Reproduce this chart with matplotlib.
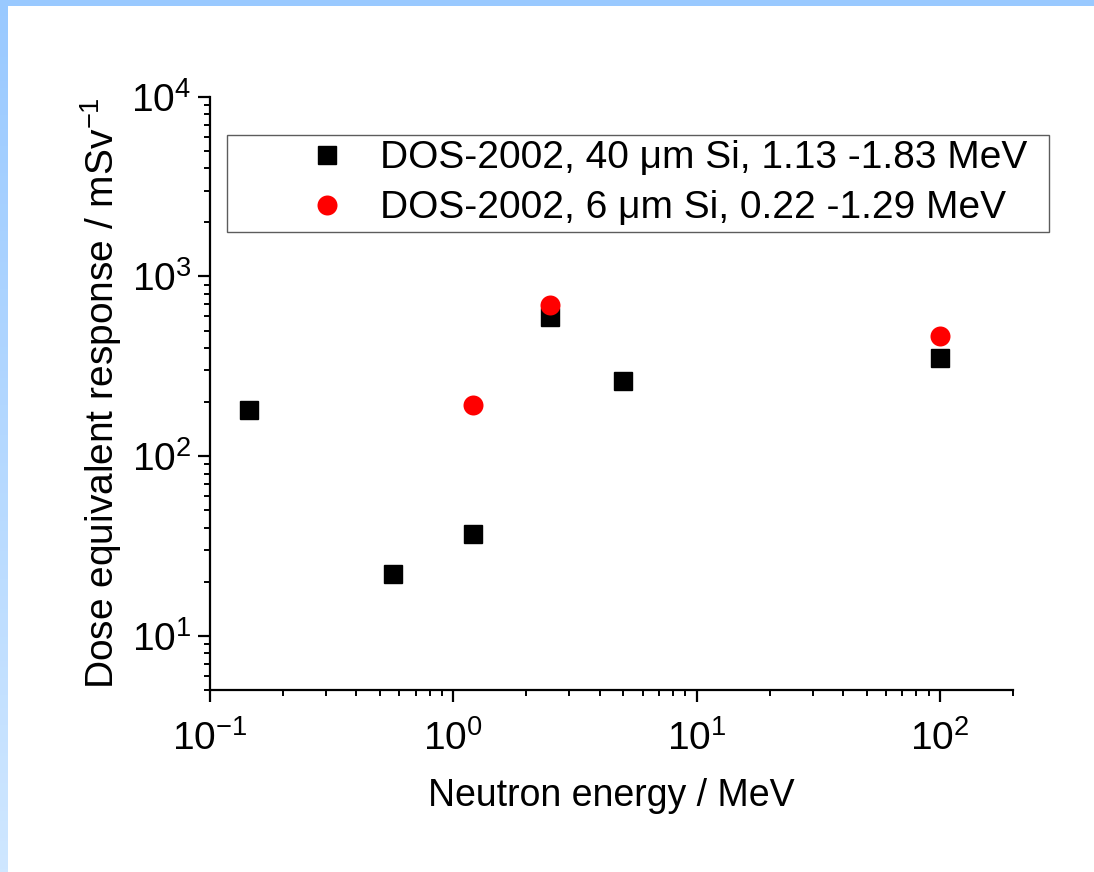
""" Dose equivalent response of the DOS-2002 dosimeter vs neutron energy """

import numpy as np
import matplotlib
matplotlib.use("Agg")
import matplotlib.pyplot as plt
from matplotlib.colors import LinearSegmentedColormap
from matplotlib.ticker import LogLocator, NullFormatter

# 40 um Si detector, 1.13 - 1.83 MeV window
energy_40um = [0.144, 0.565, 1.2, 2.5, 5.0, 100.0]
response_40um = [181, 22.1, 37.0, 598, 262, 352]

# 6 um Si detector, 0.22 - 1.29 MeV window
energy_6um = [1.2, 2.5, 100.0]
response_6um = [193, 694, 467]

labels = ["DOS-2002, 40 \u03bcm Si, 1.13 -1.83 MeV",
          "DOS-2002, 6 \u03bcm Si, 0.22 -1.29 MeV"]

plt.rcParams['font.family'] = ['Liberation Sans', 'DejaVu Sans']
plt.rcParams['mathtext.fontset'] = 'custom'
plt.rcParams['mathtext.rm'] = 'Liberation Sans'
plt.rcParams['mathtext.it'] = 'Liberation Sans:italic'
plt.rcParams['mathtext.bf'] = 'Liberation Sans:bold'


def add_frame(fig):
    """ Light blue slide border on top and left """
    cmap = LinearSegmentedColormap.from_list("edge", ["#99c9ff", "#cfe7ff"])
    left = fig.add_axes([0, 0, 8 / 1094, 1])
    left.imshow(np.linspace(0, 1, 256).reshape(-1, 1), aspect='auto',
                cmap=cmap, extent=[0, 1, 0, 1])
    left.axis('off')
    top = fig.add_axes([0, 1 - 6 / 872, 1, 6 / 872])
    top.set_facecolor("#99c9ff")
    top.set_xticks([])
    top.set_yticks([])
    for s in top.spines.values():
        s.set_visible(False)


def main():
    """ Main """
    fig = plt.figure(figsize=(10.94, 8.72), dpi=100, facecolor='white')
    add_frame(fig)

    ax = fig.add_axes([210 / 1094, 1 - 690 / 872,
                       (1013 - 210) / 1094, (690 - 96.7) / 872])
    ax.plot(energy_40um, response_40um, linestyle='none', marker='s',
            markersize=13, color='black', label=labels[0], zorder=3)
    ax.plot(energy_6um, response_6um, linestyle='none', marker='o',
            markersize=14.4, color='red', markeredgewidth=0,
            label=labels[1], zorder=4)

    ax.set_xscale('log')
    ax.set_yscale('log')
    ax.set_xlim(0.1, 200)
    ax.set_ylim(5, 1e4)

    for axis in (ax.xaxis, ax.yaxis):
        axis.set_major_locator(LogLocator(base=10, numticks=10))
        axis.set_minor_locator(LogLocator(base=10, subs=np.arange(2, 10),
                                          numticks=20))
        axis.set_minor_formatter(NullFormatter())

    ax.spines['top'].set_visible(False)
    ax.spines['right'].set_visible(False)
    ax.spines['left'].set_linewidth(1.6)
    ax.spines['bottom'].set_linewidth(1.6)
    ax.tick_params(which='major', direction='out', length=8.5, width=1.6,
                   labelsize=28)
    ax.tick_params(axis='x', which='major', pad=13)
    ax.tick_params(axis='y', which='major', pad=5)
    ax.tick_params(which='minor', direction='out', length=4.5, width=1.4)

    ax.set_xlabel("Neutron energy / MeV", fontsize=27, labelpad=15)
    ax.set_ylabel("Dose equivalent response / mSv$^{-1}$", fontsize=28,
                  labelpad=5)

    # legend box spans a fixed strip of the figure, rows expand to fill it
    leg = ax.legend(loc='upper left', mode='expand',
                    bbox_to_anchor=(227 / 1094, 1 - 231 / 872,
                                    822 / 1094, 96 / 872),
                    bbox_transform=fig.transFigure,
                    fontsize=28, frameon=True, fancybox=False,
                    edgecolor='#333333', borderaxespad=0, borderpad=0.14,
                    handlelength=4.86, handletextpad=-1.06,
                    labelspacing=0.36)
    leg.get_frame().set_linewidth(1.0)

    fig.savefig("out.png", dpi=100, facecolor='white')


if __name__ == '__main__':
    main()
